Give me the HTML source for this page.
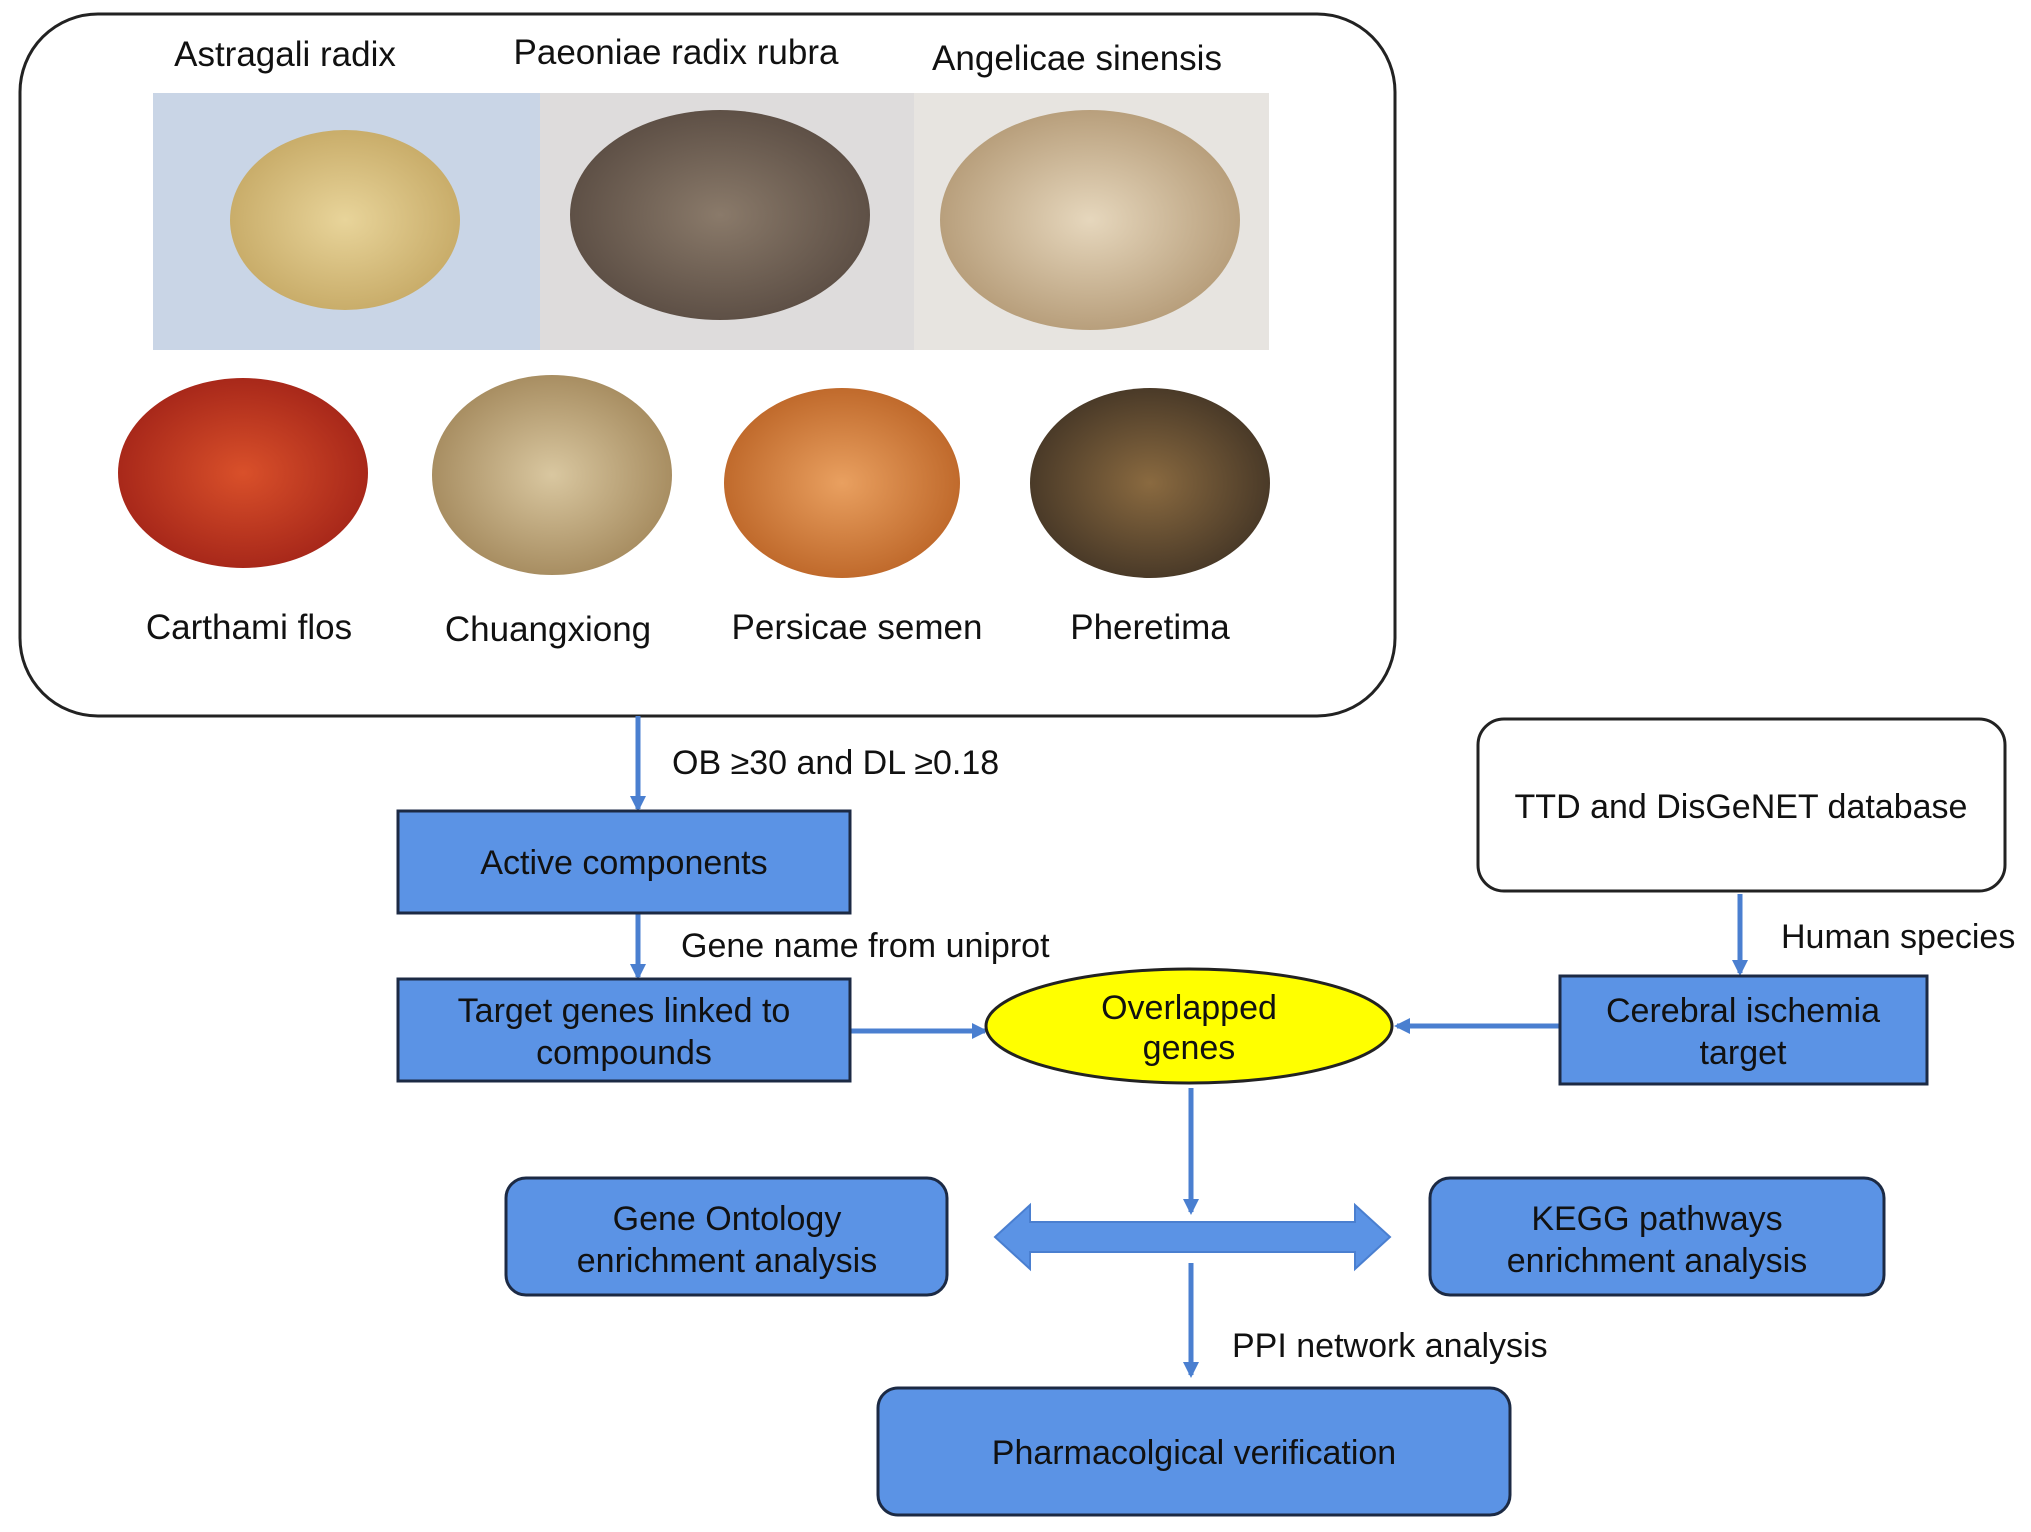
<!DOCTYPE html>
<html><head><meta charset="utf-8"><style>
html,body{margin:0;padding:0;background:#fff;}
svg{display:block;font-family:"Liberation Sans",Arial,sans-serif;}
</style></head><body>
<svg width="2031" height="1532" viewBox="0 0 2031 1532" xmlns="http://www.w3.org/2000/svg">
<defs>
<marker id="ah" markerWidth="16" markerHeight="16" refX="13" refY="8" orient="auto" markerUnits="userSpaceOnUse">
<path d="M0,0 L16,8 L0,16 z" fill="#4a7fd0"/>
</marker>
<radialGradient id="g1"><stop offset="0" stop-color="#e8d49a"/><stop offset="1" stop-color="#c9ad6a"/></radialGradient>
<radialGradient id="g2"><stop offset="0" stop-color="#8a7a6a"/><stop offset="1" stop-color="#5e5046"/></radialGradient>
<radialGradient id="g3"><stop offset="0" stop-color="#e6d7bd"/><stop offset="1" stop-color="#b89f7c"/></radialGradient>
<radialGradient id="g4"><stop offset="0" stop-color="#d9502a"/><stop offset="1" stop-color="#a8281a"/></radialGradient>
<radialGradient id="g5"><stop offset="0" stop-color="#d9c7a0"/><stop offset="1" stop-color="#a88e62"/></radialGradient>
<radialGradient id="g6"><stop offset="0" stop-color="#e9a060"/><stop offset="1" stop-color="#c06a2c"/></radialGradient>
<radialGradient id="g7"><stop offset="0" stop-color="#8a6a40"/><stop offset="1" stop-color="#4a3a28"/></radialGradient>
</defs>

<rect x="20" y="14" width="1375" height="702" rx="78" ry="78" fill="#fff" stroke="#222" stroke-width="3"/>

<g font-size="35" fill="#111" text-anchor="middle">
<text x="285" y="66">Astragali radix</text>
<text x="676" y="64">Paeoniae radix rubra</text>
<text x="1077" y="70">Angelicae sinensis</text>
</g>

<rect x="153" y="93" width="387" height="257" fill="#c9d5e6"/>
<ellipse cx="345" cy="220" rx="115" ry="90" fill="url(#g1)"/>
<rect x="540" y="93" width="374" height="257" fill="#dedcdc"/>
<ellipse cx="720" cy="215" rx="150" ry="105" fill="url(#g2)"/>
<rect x="914" y="93" width="355" height="257" fill="#e7e4e0"/>
<ellipse cx="1090" cy="220" rx="150" ry="110" fill="url(#g3)"/>

<ellipse cx="243" cy="473" rx="125" ry="95" fill="url(#g4)"/>
<ellipse cx="552" cy="475" rx="120" ry="100" fill="url(#g5)"/>
<ellipse cx="842" cy="483" rx="118" ry="95" fill="url(#g6)"/>
<ellipse cx="1150" cy="483" rx="120" ry="95" fill="url(#g7)"/>

<g font-size="35" fill="#111" text-anchor="middle">
<text x="249" y="639">Carthami flos</text>
<text x="548" y="641">Chuangxiong</text>
<text x="857" y="639">Persicae semen</text>
<text x="1150" y="639">Pheretima</text>
</g>

<g stroke="#4a7fd0" stroke-width="5" fill="none" marker-end="url(#ah)">
<line x1="638" y1="716" x2="638" y2="809"/>
<line x1="638" y1="913" x2="638" y2="977"/>
<line x1="850" y1="1031" x2="985" y2="1031"/>
<line x1="1740" y1="894" x2="1740" y2="973"/>
<line x1="1560" y1="1026" x2="1397" y2="1026"/>
<line x1="1191" y1="1088" x2="1191" y2="1212"/>
<line x1="1191" y1="1263" x2="1191" y2="1375"/>
</g>

<path d="M995,1237 L1030,1205 L1030,1222 L1355,1222 L1355,1205 L1390,1237 L1355,1269 L1355,1252 L1030,1252 L1030,1269 z" fill="#5b93e5" stroke="#4a7fd0" stroke-width="2"/>

<g font-size="34" fill="#111">
<text x="672" y="774">OB ≥30 and DL ≥0.18</text>
<text x="681" y="957">Gene name from uniprot</text>
<text x="1781" y="948">Human species</text>
<text x="1232" y="1357">PPI network analysis</text>
</g>

<g stroke="#1c2a44" stroke-width="3" fill="#5b93e5">
<rect x="398" y="811" width="452" height="102"/>
<rect x="398" y="979" width="452" height="102"/>
<rect x="1560" y="976" width="367" height="108"/>
<rect x="506" y="1178" width="441" height="117" rx="20"/>
<rect x="1430" y="1178" width="454" height="117" rx="20"/>
<rect x="878" y="1388" width="632" height="127" rx="20"/>
</g>
<rect x="1478" y="719" width="527" height="172" rx="26" fill="#fff" stroke="#222" stroke-width="3"/>
<ellipse cx="1189" cy="1026" rx="203" ry="57" fill="#ffff00" stroke="#222" stroke-width="3"/>

<g font-size="34" fill="#111" text-anchor="middle">
<text x="624" y="874">Active components</text>
<text x="624" y="1022">Target genes linked to</text>
<text x="624" y="1064">compounds</text>
<text x="1189" y="1019">Overlapped</text>
<text x="1189" y="1059">genes</text>
<text x="1741" y="818">TTD and DisGeNET database</text>
<text x="1743" y="1022">Cerebral ischemia</text>
<text x="1743" y="1064">target</text>
<text x="727" y="1230">Gene Ontology</text>
<text x="727" y="1272">enrichment analysis</text>
<text x="1657" y="1230">KEGG pathways</text>
<text x="1657" y="1272">enrichment analysis</text>
<text x="1194" y="1464">Pharmacolgical verification</text>
</g>
</svg>
</body></html>
